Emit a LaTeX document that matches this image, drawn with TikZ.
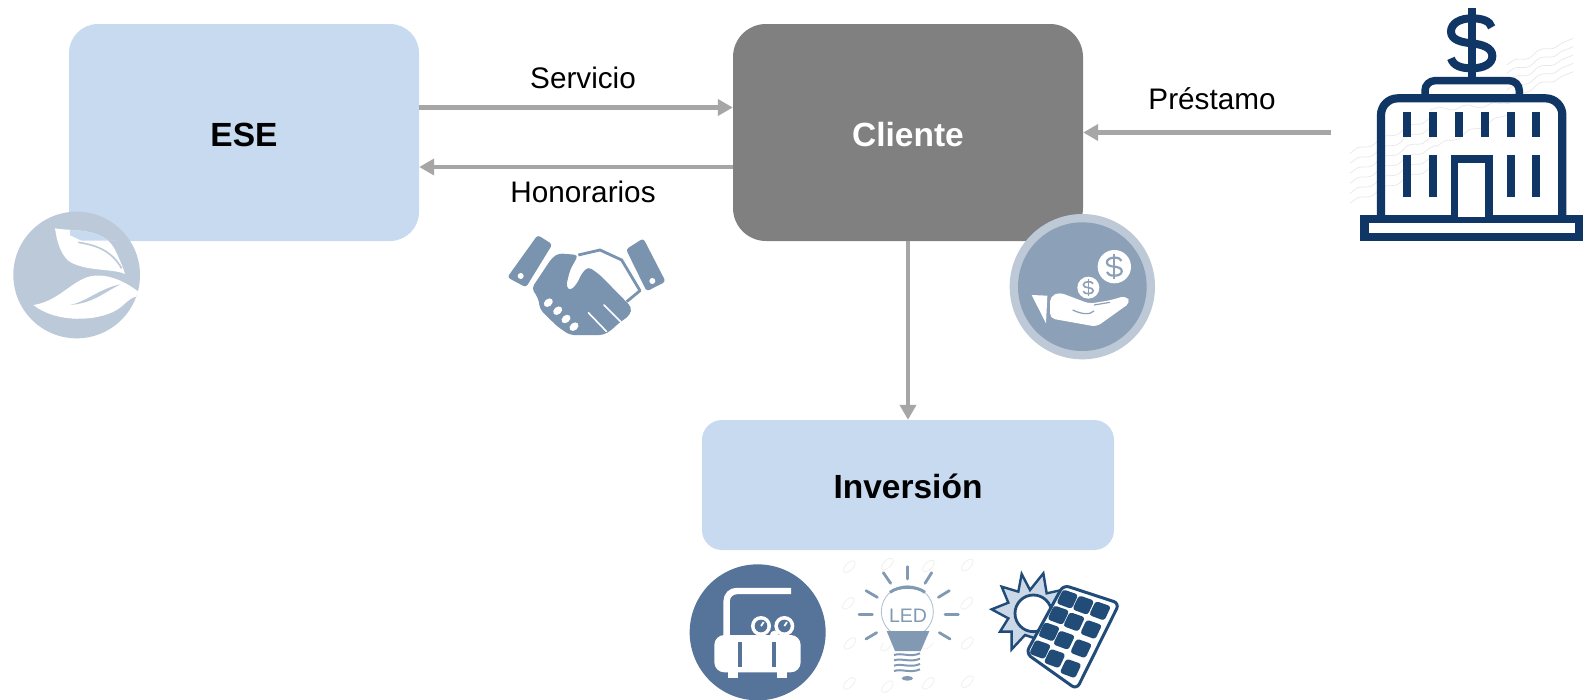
\documentclass[tikz,border=0pt]{standalone}
\usepackage{fontspec}
\setmainfont{Liberation Sans}
\usetikzlibrary{arrows.meta,decorations.pathmorphing,calc}
\definecolor{boxblue}{HTML}{C8DAEF}
\definecolor{boxgray}{HTML}{808080}
\definecolor{arrowgray}{HTML}{A6A6A6}
\definecolor{leafgray}{HTML}{BCC9D8}
\definecolor{slate}{HTML}{7A93AE}
\definecolor{coinouter}{HTML}{BDC9D6}
\definecolor{coininner}{HTML}{8CA0B8}
\definecolor{navy}{HTML}{0F3665}
\definecolor{steel}{HTML}{56739A}
\definecolor{ledblue}{HTML}{8199B3}
\definecolor{panelblue}{HTML}{214C78}
\definecolor{sunlight}{HTML}{CBD8E7}
\definecolor{wmark}{HTML}{E8E8E8}
\definecolor{wmarklight}{HTML}{F0F0F0}
\newcommand{\moneysign}[5]{%
  \begin{scope}[shift={(#1,#2)},scale=#3]
    \draw[#5,line width=#4] (0,-105) -- (0,105);
    \draw[#5,line width=#4] (60,-48) .. controls (55,-68) and (30,-75) .. (0,-75)
      .. controls (-35,-75) and (-62,-60) .. (-62,-35)
      .. controls (-62,-10) and (-30,-3) .. (0,0)
      .. controls (30,3) and (62,12) .. (62,38)
      .. controls (62,62) and (35,75) .. (0,75)
      .. controls (-30,75) and (-55,68) .. (-62,45);
  \end{scope}}
\tikzset{
  boxnode/.style={inner sep=0pt,rounded corners=#1},
  flowline/.style={arrowgray,line width=4.6pt,-{Triangle[length=15pt,width=16pt]}},
  flowlabel/.style={font=\fontsize{29.7}{33}\selectfont,inner sep=0pt},
  boxlabel/.style={font=\fontsize{33.5}{38}\selectfont\bfseries},
  icon/.style={x=0.33333pt,y=-0.33333pt},
  wave/.style={wmark,line width=0.7pt,decorate,decoration={snake,amplitude=2pt,segment length=28pt}},
  ray/.style={ledblue,line width=2.8pt,line cap=round}
}
\begin{document}
\begin{tikzpicture}[x=1pt,y=-1pt]
\useasboundingbox (0,0) rectangle (1585,699);
\fill[white] (0,0) rectangle (1585,699);

% boxes
\node[boxnode=29pt,fill=boxblue,minimum width=350pt,minimum height=217pt,boxlabel,text=black] (ese) at (244,132.5) {\raisebox{-2pt}[\height][\depth]{ESE}};
\node[boxnode=33pt,fill=boxgray,minimum width=350pt,minimum height=217pt,boxlabel,text=white] (cliente) at (908,132.5) {\raisebox{-2pt}[\height][\depth]{Cliente}};
\node[boxnode=20pt,fill=boxblue,minimum width=412pt,minimum height=130pt,boxlabel,text=black] (inversion) at (908,485) {\raisebox{-1.5pt}[\height][\depth]{Inversión}};
\coordinate (banco) at (1331,132.5);

% connectors
\draw[flowline] ([yshift=25pt]ese.east) -- ([yshift=25pt]cliente.west);
\draw[flowline] ([yshift=-34.5pt]cliente.west) -- ([yshift=-34.5pt]ese.east);
\draw[flowline] (banco) -- (cliente.east);
\draw[flowline] (cliente.south) -- (inversion.north);

% labels
\node[flowlabel] (lservicio) at (583,78) {Servicio};
\node[flowlabel] (lhonorarios) at (583,192) {Honorarios};
\node[flowlabel] (lprestamo) at (1212,99) {Préstamo};

% leaf icon
\begin{scope}[shift={(0,190)},icon]
  \fill[leafgray] (230,255) circle (190);
  \path[fill=white] (165,115) .. controls (220,125) and (320,110) .. (350,190)
     .. controls (362,215) and (370,235) .. (375,252)
     .. controls (340,235) and (250,245) .. (205,212)
     .. controls (180,190) and (170,150) .. (165,115) -- cycle;
  \begin{scope}
    \clip (165,115) .. controls (220,125) and (320,110) .. (350,190) -- (350,152) -- (245,152) -- cycle;
    \fill[boxblue] (210,100) rectangle (420,152);
  \end{scope}
  \draw[leafgray,line width=1.6pt] (235,157) .. controls (280,165) and (330,175) .. (365,235);
  \path[fill=white] (100,345) .. controls (170,335) and (210,280) .. (260,262)
     .. controls (310,245) and (370,270) .. (415,305)
     -- (408,320) .. controls (385,325) and (375,345) .. (350,360)
     .. controls (290,395) and (170,400) .. (100,345) -- cycle;
  \path[fill=leafgray] (210,345) .. controls (260,335) and (300,295) .. (362,283)
     .. controls (315,305) and (280,340) .. (210,345) -- cycle;
\end{scope}

% handshake icon
\begin{scope}[shift={(490,220)},icon]
  \fill[slate,rounded corners=3pt] (52,172) -- (143,45) -- (187,73) -- (108,202) -- cycle;
  \fill[white] (92,168) circle (9);
  \fill[slate,rounded corners=3pt] (408,88) -- (460,55) -- (527,185) -- (470,214) -- cycle;
  \fill[white] (487,183) circle (9);
  \draw[slate,line width=2.8pt,line join=round] (265,105) -- (330,90) -- (395,120) -- (450,212) -- (410,245);
  \fill[slate,rounded corners=4pt] (125,205) -- (185,115) -- (205,100) -- (265,105)
     -- (240,150) -- (228,200) -- (240,213) -- (262,190) -- (275,160) -- (295,140) -- (330,165)
     -- (425,262) -- (420,285) -- (400,300) -- (385,310) -- (365,330) -- (340,345)
     -- (285,345) -- (240,345) -- (205,322) -- (180,298) -- (150,268) -- (145,235) -- cycle;
  \draw[white,line width=1.6pt,line cap=round] (342,255) -- (392,305);
  \draw[white,line width=1.6pt,line cap=round] (295,278) -- (350,335);
  \foreach \fx/\fy/\fa in {175/248/40,203/272/40,228/297/40,252/320/40}
    \fill[white,rotate around={\fa:(\fx,\fy)}] (\fx,\fy) ellipse (15 and 11);
\end{scope}

% coin hand icon
\begin{scope}[shift={(1000,205)},icon]
  \fill[coinouter] (247,245) circle (218);
  \fill[coininner] (247,245) circle (193);
  \fill[white] (343,185) circle (50);
  \fill[white] (265,248) circle (33);
  \moneysign{343}{185}{0.36}{2.2pt}{coininner}
  \moneysign{265}{248}{0.24}{1.6pt}{coininner}
  \fill[white] (95,270) -- (142,272) -- (138,355) -- cycle;
  \fill[white,rounded corners=5pt] (150,275) -- (178,262) -- (268,296) -- (330,286) -- (378,272)
     -- (392,292) -- (290,365) -- (150,340) -- cycle;
  \draw[coininner,line width=1.2pt] (218,315) .. controls (245,328) and (270,330) .. (282,318);
  \draw[coininner,line width=1.2pt] (282,300) -- (330,292);
\end{scope}

% bank icon
\begin{scope}[shift={(1340,0)},icon]
  \foreach \wy in {0,25,50,75,100}
    \draw[wave] (500,{215+\wy-20}) -- (700,{125+\wy-10});
  \foreach \wy in {0,30,60,90,120,150}
    \draw[wave] (30,{470+\wy-10}) -- (290,{345+\wy});
  \draw[wave] (270,330) -- (510,310);
  \draw[wave] (290,440) -- (500,345);
  \draw[navy,line width=8.2pt,line join=round] (123,650) -- (123,345) arc[start angle=180,end angle=270,radius=50] -- (617,295) arc[start angle=-90,end angle=0,radius=50] -- (667,650);
  \draw[navy,line width=7.5pt] (255,292) -- (255,272) arc[start angle=180,end angle=270,radius=30] -- (508,242) arc[start angle=-90,end angle=0,radius=30] -- (538,292);
  \fill[navy] (60,645) rectangle (728,722);
  \fill[white] (87,670) rectangle (705,698);
  \foreach \wx in {190,267,345,422,500,577}
    \fill[navy] (\wx,335) rectangle ++(24,75);
  \foreach \wx in {190,267,500,577}
    \fill[navy] (\wx,465) rectangle ++(24,127);
  \fill[navy] (332,465) rectangle (458,650);
  \fill[white] (355,490) rectangle (435,650);
  \moneysign{395}{130}{1}{8pt}{navy}
\end{scope}

% compressor icon
\begin{scope}[shift={(680,555)},icon]
  \fill[steel] (233,232) circle (204);
  \draw[white,line width=6.4pt] (333,108) -- (170,108) arc[start angle=270,end angle=180,radius=30] -- (140,245);
  \fill[white,rounded corners=10pt] (103,240) rectangle (362,352);
  \fill[white] (145,345) rectangle (175,370);
  \fill[white] (290,345) rectangle (320,370);
  \fill[steel] (175,260) rectangle (187,335);
  \fill[steel] (277,260) rectangle (289,335);
  \fill[white] (283,240) circle (13);
  \foreach \gx in {243,313} {
    \fill[white] (\gx,213) circle (30);
    \fill[steel] (\gx,213) circle (19);
    \draw[white,line width=1.8pt] (\gx,213) -- ++(8,-12);
  }
\end{scope}

% LED icon
\begin{scope}[shift={(830,550)},icon]
  \foreach \mx/\my in {58/50,172/42,295/48,412/45,55/160,410/160,60/280,170/285,295/280,412/280,58/400,172/410,295/400,412/395}
    \draw[wmarklight,line width=0.8pt,rotate around={45:(\mx,\my)}] (\mx,\my) ellipse (22 and 11);
  \draw[ray] (232,50) -- (232,87);
  \draw[ray] (160,68) -- (182,100);
  \draw[ray] (305,68) -- (285,100);
  \draw[ray] (108,122) -- (142,142);
  \draw[ray] (358,122) -- (325,142);
  \draw[ray] (87,193) -- (127,193);
  \draw[ray] (345,193) -- (385,193);
  \draw[ray] (108,267) -- (140,248);
  \draw[ray] (360,267) -- (328,248);
  \draw[ledblue!60,line width=0.9pt] (232,185) circle (78);
  \fill[white] (150,243) rectangle (315,280);
  \draw[ledblue,line width=3pt] (180,127) .. controls (205,107) and (260,107) .. (285,127);
  \fill[ledblue] (170,243) -- (298,243) -- (272,303) -- (195,303) -- cycle;
  \foreach \ty in {315,331,347,363}
    \draw[ledblue,line width=2pt] (192,\ty) .. controls (215,{\ty-8}) and (240,{\ty+8}) .. (270,{\ty-5});
  \fill[ledblue] (232,385) ellipse (17 and 7);
  \node[inner sep=0pt,text=ledblue,font=\fontsize{19.5}{22}\selectfont] (ledtext) at (234,196) {LED};
\end{scope}

% solar icon
\begin{scope}[shift={(980,560)},icon]
  \path[fill=sunlight,draw=panelblue,line width=2.4pt,line join=miter]
    (125,42) -- (150,90) -- (190,40) -- (200,100) -- (245,90) -- (220,180) -- (165,235) -- (135,225)
    -- (95,268) -- (95,215) -- (60,215) -- (85,175) -- (35,148) -- (85,128) -- (65,80) -- (115,95) -- cycle;
  \fill[white] (160,160) circle (55);
  \draw[panelblue,line width=2.8pt] (160,160) circle (55);
  \path[fill=white,draw=panelblue,line width=3pt,rounded corners=6pt] (250,75) -- (418,130) -- (290,388) -- (138,280) -- cycle;
  \foreach \cx/\cy in {262/117,310/135,360/152,235/165,282/185,333/208,207/215,252/240,303/265,180/268,224/295,272/325}
    \fill[panelblue,rounded corners=3pt] ({\cx-13},{\cy-29}) -- ({\cx+33},{\cy-13}) -- ({\cx+13},{\cy+30}) -- ({\cx-33},{\cy+13}) -- cycle;
\end{scope}
\end{tikzpicture}
\end{document}
